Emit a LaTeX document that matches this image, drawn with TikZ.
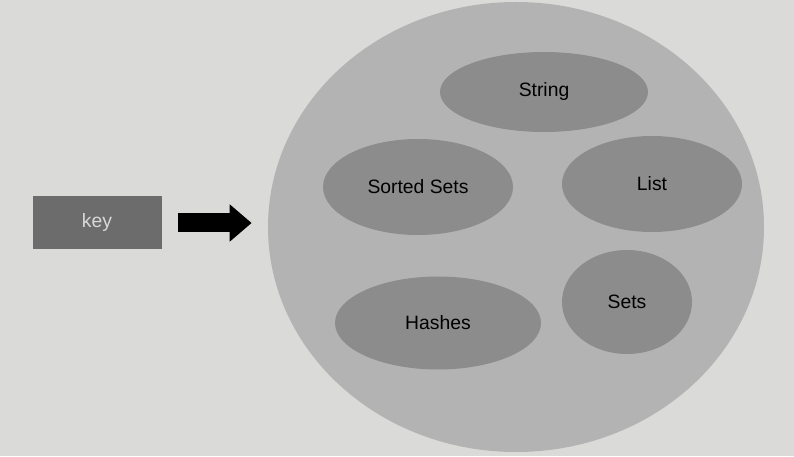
\documentclass[tikz,border=0pt]{standalone}
\usepackage{fontspec}
\setmainfont{Liberation Sans}
\usepackage{tikz}
\usetikzlibrary{arrows.meta,shapes.geometric}

\definecolor{paper}{HTML}{DADAD8}
\definecolor{storegray}{HTML}{B3B3B3}
\definecolor{typegray}{HTML}{8C8C8C}
\definecolor{keygray}{HTML}{6C6C6C}
\definecolor{keytext}{HTML}{D8D8D8}

\tikzset{
  store/.style={ellipse, fill=storegray, inner sep=0pt},
  typebox/.style={ellipse, fill=typegray, inner sep=0pt, text=black, font=\fontsize{11}{13}\selectfont},
  keybox/.style={rectangle, fill=keygray, inner sep=0pt, text=keytext, font=\fontsize{11}{13}\selectfont},
}

\begin{document}
\begin{tikzpicture}
        \useasboundingbox (0,0) rectangle (15.88,9.12);
        \fill[paper] (0,0) rectangle (15.88,9.12);

        % Key
        \node[keybox, minimum width=2.58cm, minimum height=1.06cm] (key) at (1.94,4.66) {key};

        % Value store
        \node[store, minimum width=9.92cm, minimum height=9cm] (store) at (10.32,4.58) {};

        % Value types inside the store
        \node[typebox, minimum width=4.16cm, minimum height=1.6cm] (string) at (10.88,7.28) {String};
        \node[typebox, minimum width=3.8cm, minimum height=1.92cm] (sorted) at (8.36,5.38) {Sorted Sets};
        \node[typebox, minimum width=3.6cm, minimum height=1.92cm] (list) at (13.04,5.44) {List};
        \node[typebox, minimum width=4.12cm, minimum height=1.86cm] (hashes) at (8.76,2.66) {Hashes};
        \node[typebox, minimum width=2.6cm, minimum height=2.08cm] (sets) at (12.54,3.08) {Sets};

        % Arrow from key to store
        \draw[-{Triangle[width=0.72cm,length=0.44cm]}, line width=0.38cm, shorten <=0.32cm, shorten >=0.32cm] (key) -- (key -| store.west);

\end{tikzpicture}
\end{document}
